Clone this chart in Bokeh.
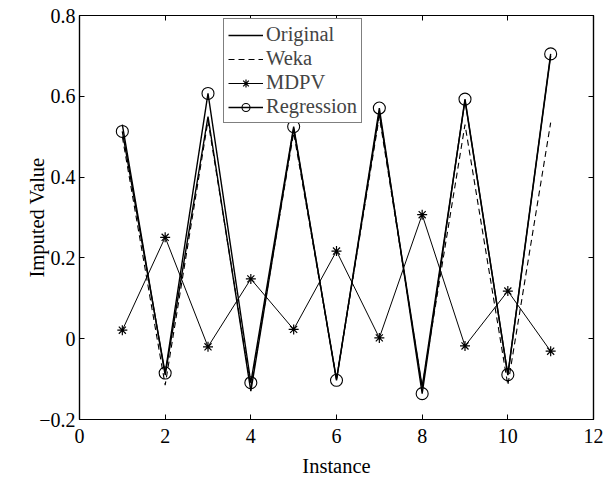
from bokeh.plotting import figure
from bokeh.models import LinearAxis, FixedTicker, Range1d, Legend, LegendItem
from bokeh.embed import file_html
from bokeh.resources import INLINE

# Instances and imputed values per method
instance = [1, 2, 3, 4, 5, 6, 7, 8, 9, 10, 11]
original = [0.53, -0.09, 0.55, -0.13, 0.52, -0.10, 0.56, -0.12, 0.59, -0.09, 0.70]
weka = [0.50, -0.115, 0.54, -0.12, 0.51, -0.10, 0.55, -0.12, 0.53, -0.115, 0.535]
mdpv = [0.021, 0.251, -0.020, 0.148, 0.023, 0.217, 0.002, 0.307, -0.018, 0.118, -0.031]
regression = [0.513, -0.085, 0.607, -0.109, 0.525, -0.103, 0.571, -0.136, 0.593, -0.089, 0.705]

x_ticks = [0, 2, 4, 6, 8, 10, 12]
y_ticks = [-0.2, 0, 0.2, 0.4, 0.6, 0.8]
y_tick_labels = ["\u22120.2", "0", "0.2", "0.4", "0.6", "0.8"]

FONT = "Liberation Serif"
TICK_SIZE = "20px"
LABEL_SIZE = "20.5px"

p = figure(width=611, height=484, output_backend="svg", toolbar_location=None,
           x_range=Range1d(0, 12), y_range=Range1d(-0.2, 0.8),
           min_border_left=79, min_border_right=18, min_border_top=15, min_border_bottom=65)
p.xgrid.visible = False
p.ygrid.visible = False
p.outline_line_color = "black"
p.outline_line_width = 1.2
p.background_fill_color = "white"
p.border_fill_color = "white"

r_orig = p.line(instance, original, line_color="black", line_width=1.4)
r_weka = p.line(instance, weka, line_color="black", line_width=1.1, line_dash="6 4")
r_mdpv = p.line(instance, mdpv, line_color="black", line_width=1.0)
r_mdpv_m = p.scatter(instance, mdpv, marker="asterisk", size=10, line_color="black", line_width=1.2)
r_reg = p.line(instance, regression, line_color="black", line_width=1.4)
r_reg_m = p.scatter(instance, regression, marker="circle", size=12, line_color="black",
                    fill_color=None, line_width=1.1)


def style_axis(ax, standoff=4, show_labels=True):
    ax.axis_line_color = "black"
    ax.axis_line_width = 1.2
    ax.major_tick_in = 5
    ax.major_tick_out = 0
    ax.minor_tick_line_color = None
    ax.major_tick_line_color = "black"
    ax.major_label_text_font = FONT
    ax.major_label_text_font_size = TICK_SIZE
    ax.major_label_text_color = "black"
    ax.major_label_standoff = standoff
    ax.axis_label_text_color = "black"
    if not show_labels:
        ax.major_label_text_font_size = "0px"
        ax.major_label_text_alpha = 0


xa = p.xaxis[0]
xa.ticker = FixedTicker(ticks=x_ticks)
style_axis(xa, standoff=9)
xa.axis_label = "Instance"
xa.axis_label_text_font = FONT
xa.axis_label_text_font_size = LABEL_SIZE
xa.axis_label_text_font_style = "normal"
xa.axis_label_standoff = 9

ya = p.yaxis[0]
ya.ticker = FixedTicker(ticks=y_ticks)
ya.major_label_overrides = {t: s for t, s in zip(y_ticks, y_tick_labels)}
style_axis(ya, standoff=4)
ya.axis_label = "Imputed Value"
ya.axis_label_text_font = FONT
ya.axis_label_text_font_size = LABEL_SIZE
ya.axis_label_text_font_style = "normal"
ya.axis_label_standoff = -12

top = LinearAxis(ticker=FixedTicker(ticks=x_ticks))
style_axis(top, show_labels=False)
p.add_layout(top, "above")
right = LinearAxis(ticker=FixedTicker(ticks=y_ticks))
style_axis(right, show_labels=False)
p.add_layout(right, "right")

legend = Legend(items=[
    LegendItem(label="Original", renderers=[r_orig]),
    LegendItem(label="Weka", renderers=[r_weka]),
    LegendItem(label="MDPV", renderers=[r_mdpv, r_mdpv_m]),
    LegendItem(label="Regression", renderers=[r_reg, r_reg_m]),
], location=(144, 296))
legend.label_text_font = FONT
legend.label_text_font_size = "20.5px"
legend.label_standoff = 3
legend.glyph_width = 35
legend.glyph_height = 20
legend.label_height = 20
legend.spacing = 1
legend.padding = 4
legend.margin = 0
legend.border_line_color = "black"
legend.border_line_width = 1.2
legend.background_fill_alpha = 1.0
p.add_layout(legend, "center")

open("out.html", "w").write(file_html(p, INLINE))
